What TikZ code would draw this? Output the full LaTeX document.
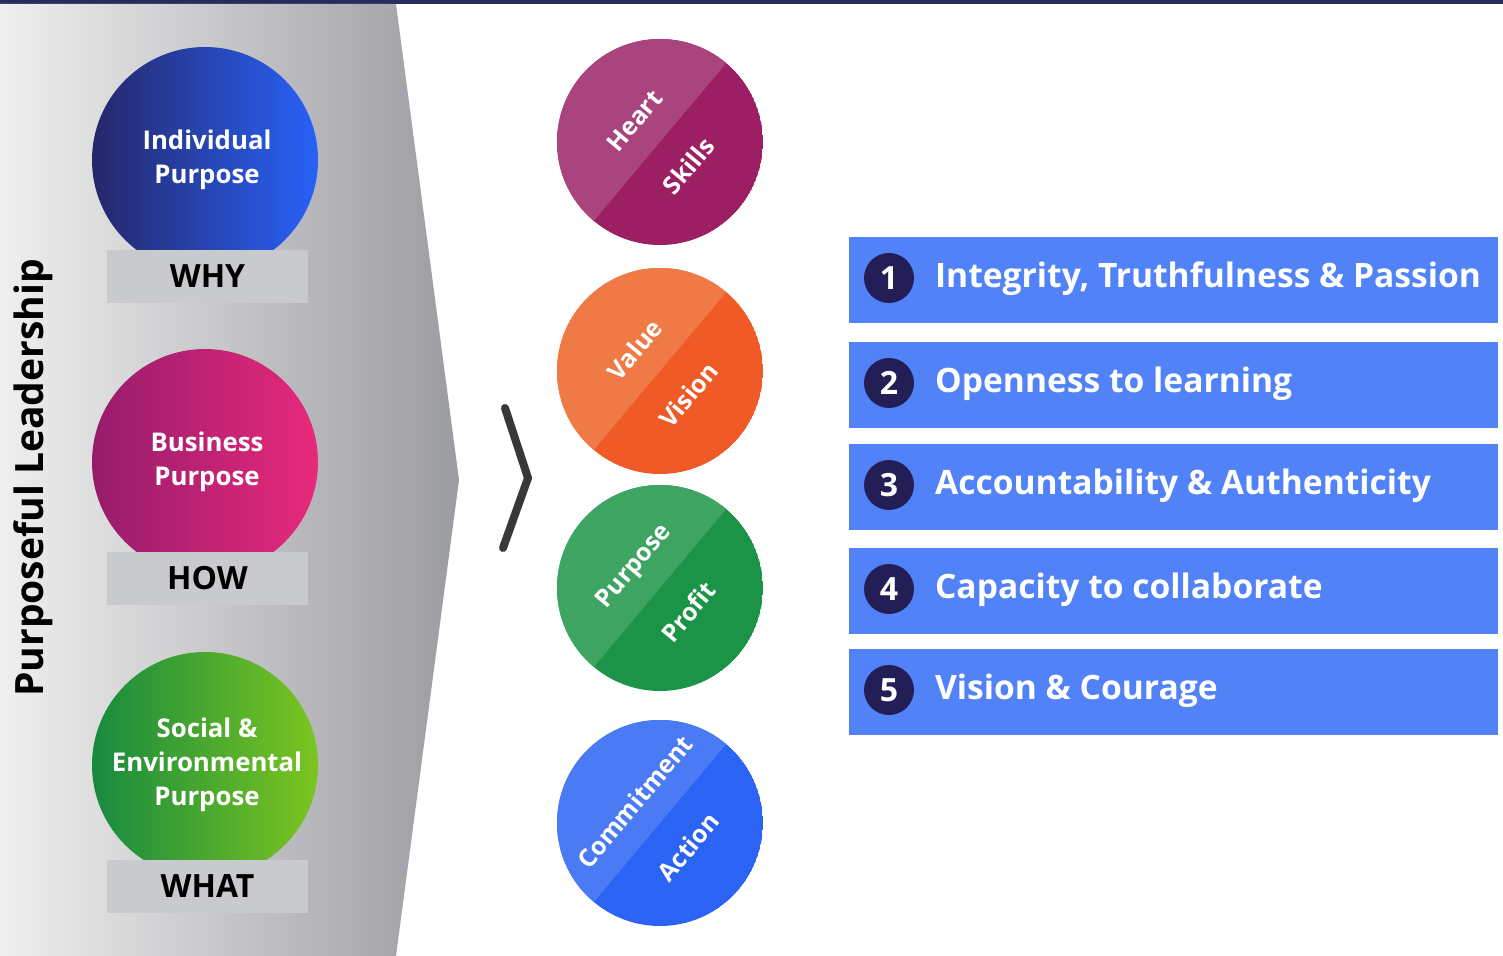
\documentclass[tikz,border=0pt]{standalone}
\usepackage{fontspec}
\setmainfont{Open Sans}
\definecolor{topband}{HTML}{2B2A5C}
\definecolor{panelL}{HTML}{EFEFEF}
\definecolor{panelR}{HTML}{9B9CA1}
\definecolor{tagfill}{HTML}{C9CACD}
\definecolor{indL}{HTML}{27276A}
\definecolor{indM}{HTML}{2A40B4}
\definecolor{indR}{HTML}{2762F8}
\definecolor{busL}{HTML}{961C6C}
\definecolor{busM}{HTML}{C0226F}
\definecolor{busR}{HTML}{E8297B}
\definecolor{socL}{HTML}{178A3F}
\definecolor{socM}{HTML}{239A40}
\definecolor{socR}{HTML}{7CC520}
\definecolor{heartL}{HTML}{A9447F}
\definecolor{heartD}{HTML}{9C1F63}
\definecolor{valueL}{HTML}{F07A45}
\definecolor{valueD}{HTML}{F05A26}
\definecolor{purpL}{HTML}{3DA461}
\definecolor{purpD}{HTML}{1B9448}
\definecolor{commL}{HTML}{4A7BF4}
\definecolor{commD}{HTML}{2B63F5}
\definecolor{boxfill}{HTML}{5282F7}
\definecolor{numdot}{HTML}{231E55}
\tikzset{
  circtext/.style={text=white,font=\bfseries\fontsize{12.9}{17}\selectfont,align=center},
  tag/.style={font=\bfseries\fontsize{16}{19}\selectfont},
  slicetext/.style={text=white,font=\bfseries\fontsize{12.4}{15}\selectfont,rotate=50,inner sep=1pt},
  numdot/.style={circle,fill=numdot,text=white,minimum size=25pt,inner sep=0pt,font=\bfseries\fontsize{16}{19}\selectfont},
  itemtext/.style={text=white,anchor=west,font=\bfseries\fontsize{16.8}{20}\selectfont},
  chev/.style={line width=4pt,draw=black!78,line cap=round,line join=round}
}
\begin{document}
\begin{tikzpicture}[x=0.5pt,y=-0.5pt]
\useasboundingbox (0,0) rectangle (1503,956);
\fill[white] (0,0) rectangle (1503,956);
\fill[topband] (0,0) rectangle (1503,4);
% gray arrow panel
\shade[left color=panelL,right color=panelR] (0,4) -- (396,4) -- (459,480) -- (396,956) -- (0,956) -- cycle;
\node[rotate=90,font=\bfseries\fontsize{19.5}{24}\selectfont] (title) at (33,478) {Purposeful Leadership};
% purpose circles with their tags
\foreach \y/\t/\colA/\colM/\colB/\lab/\txt [count=\i] in {
  160/250/indL/indM/indR/WHY/{Individual\\Purpose},
  462/552/busL/busM/busR/HOW/{Business\\Purpose},
  765/860/socL/socM/socR/WHAT/{Social \&\\Environmental\\Purpose}}{
  \shade[left color=\colA,middle color=\colM,right color=\colB] (205,\y) circle (56.5pt);
  \node[circtext] (purpose\i) at (207,\y) {\txt};
  \fill[tagfill] (107,\t) rectangle (308,\t+53);
  \node[tag] (tag\i) at (207.5,\t+26.5) {\lab};
}
\draw[chev] (505,408) -- (528,478) -- (503,548);
% split circles
\foreach \y/\colA/\colB/\ta/\tb [count=\i] in {
  142/heartL/heartD/Heart/Skills,
  371/valueL/valueD/Value/Vision,
  588/purpL/purpD/Purpose/Profit,
  823/commL/commD/Commitment/Action}{
  \coordinate (c\i) at (660,\y);
  \begin{scope}
    \clip (c\i) circle (51.5pt);
    \fill[\colB] (c\i) circle (51.5pt);
    \fill[\colA,rotate around={50:(c\i)}] (540,\y-120) rectangle (780,\y);
  \end{scope}
  \node[slicetext] (upper\i) at ([shift={(140:16.5pt)}]c\i) {\ta};
  \node[slicetext] (lower\i) at ([shift={(-40:18.5pt)}]c\i) {\tb};
}
% numbered list
\foreach \y/\txt [count=\n] in {
  237/{Integrity, Truthfulness \& Passion},
  342/{Openness to learning},
  444/{Accountability \& Authenticity},
  548/{Capacity to collaborate},
  649/{Vision \& Courage}}{
  \fill[boxfill] (849,\y) rectangle (1498,\y+86);
  \node[numdot] (num\n) at (889,\y+41) {\n};
  \node[itemtext] (item\n) at (928,\y+42) {\txt};
}
\end{tikzpicture}
\end{document}
